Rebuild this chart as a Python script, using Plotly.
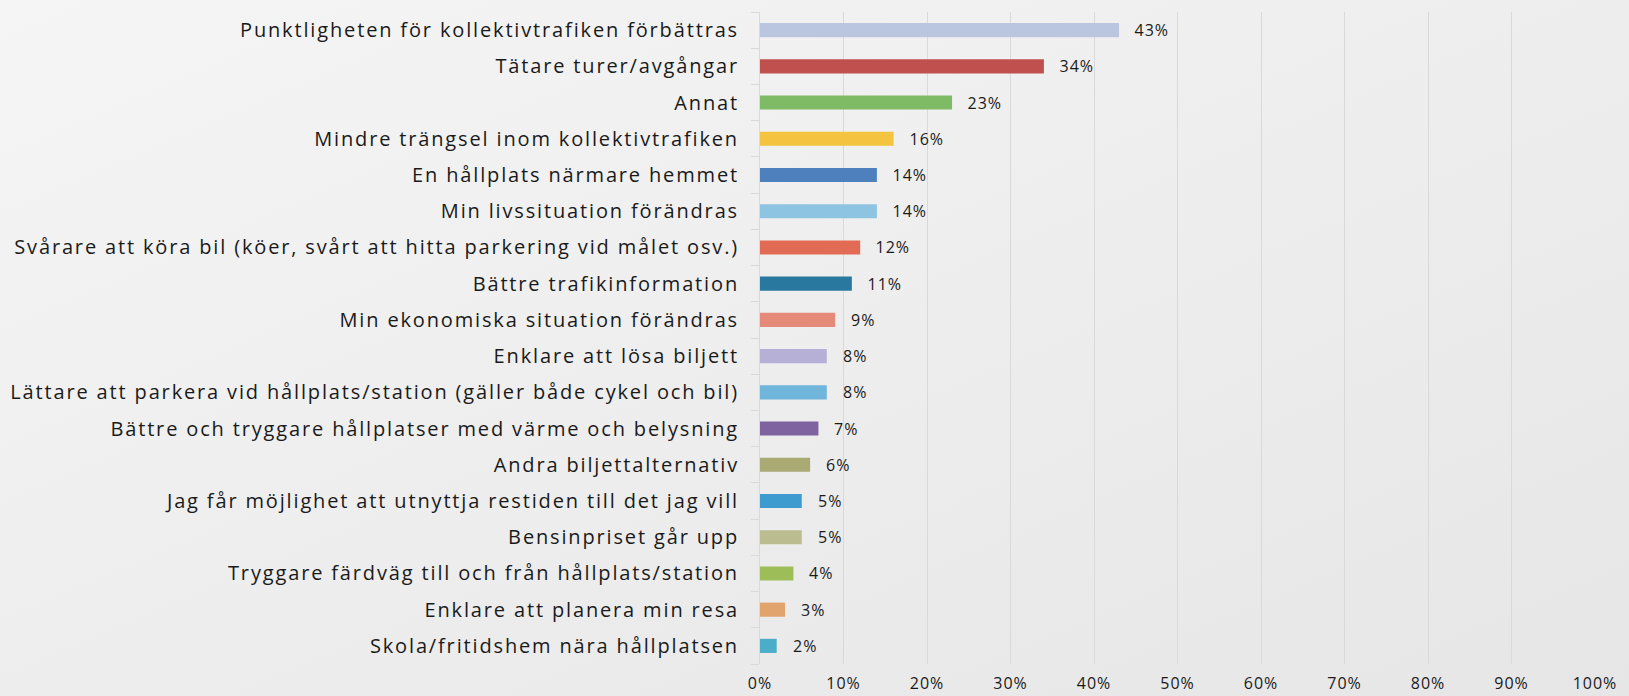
import base64
import plotly.graph_objects as go

# Survey answers: what would make you travel more by public transport (share of respondents, %)
categories = [
    "Punktligheten för kollektivtrafiken förbättras",
    "Tätare turer/avgångar",
    "Annat",
    "Mindre trängsel inom kollektivtrafiken",
    "En hållplats närmare hemmet",
    "Min livssituation förändras",
    "Svårare att köra bil (köer, svårt att hitta parkering vid målet osv.)",
    "Bättre trafikinformation",
    "Min ekonomiska situation förändras",
    "Enklare att lösa biljett",
    "Lättare att parkera vid hållplats/station (gäller både cykel och bil)",
    "Bättre och tryggare hållplatser med värme och belysning",
    "Andra biljettalternativ",
    "Jag får möjlighet att utnyttja restiden till det jag vill",
    "Bensinpriset går upp",
    "Tryggare färdväg till och från hållplats/station",
    "Enklare att planera min resa",
    "Skola/fritidshem nära hållplatsen",
]
values = [43, 34, 23, 16, 14, 14, 12, 11, 9, 8, 8, 7, 6, 5, 5, 4, 3, 2]
bar_colors = [
    "#BAC6E0", "#C0504E", "#7EBB64", "#F4C441", "#4E80BD", "#8DC4E2",
    "#E16B55", "#2878A0", "#E58A78", "#B7B0D6", "#70B5DC", "#7F62A0",
    "#AAAA74", "#3D9BD0", "#BBBD90", "#9DBD59", "#E0A46C", "#4BADC8",
]
x_ticks = list(range(0, 101, 10))
x_tick_labels = [f"{t}%" for t in x_ticks]

W, H = 1629, 696
M_L, M_R, M_T, M_B = 760, 34, 12, 32
FONT = "Open Sans"
TEXT = "#1a1a1a"

fig = go.Figure(
    go.Bar(
        x=values,
        y=categories,
        orientation="h",
        marker=dict(color=bar_colors, line=dict(width=0)),
        width=0.39,
        hoverinfo="x+y",
    )
)

# value labels to the right of each bar
for cat, v in zip(categories, values):
    fig.add_annotation(
        x=v, y=cat, text=f"{v}%", showarrow=False,
        xanchor="left", yanchor="middle", xshift=15, yshift=0,
        font=dict(family=FONT, size=16, color=TEXT),
    )

# soft diagonal background gradient behind the whole figure
svg = (
    f'<svg xmlns="http://www.w3.org/2000/svg" width="{W}" height="{H}">'
    '<defs><linearGradient id="g" x1="0" y1="0" x2="1" y2="1">'
    '<stop offset="0" stop-color="#f5f5f5"/><stop offset="1" stop-color="#e6e6e6"/>'
    '</linearGradient></defs>'
    f'<rect width="{W}" height="{H}" fill="url(#g)"/></svg>'
)
bg_src = "data:image/svg+xml;base64," + base64.b64encode(svg.encode()).decode()
pw, ph = W - M_L - M_R, H - M_T - M_B
fig.add_layout_image(
    source=bg_src, xref="paper", yref="paper",
    x=-M_L / pw, y=1 + M_T / ph, sizex=W / pw, sizey=H / ph,
    xanchor="left", yanchor="top", sizing="stretch", layer="below",
)

fig.update_layout(
    width=W, height=H,
    margin=dict(l=M_L, r=M_R, t=M_T, b=M_B, pad=0, autoexpand=False),
    paper_bgcolor="#eeeeee",
    plot_bgcolor="rgba(0,0,0,0)",
    showlegend=False,
    font=dict(family=FONT, color=TEXT),
    xaxis=dict(
        range=[0, 100], tickvals=x_ticks, ticktext=x_tick_labels,
        showgrid=True, gridcolor="#d9d9d9", gridwidth=1,
        zeroline=False, showline=False, ticks="",
        tickfont=dict(family=FONT, size=16, color=TEXT),
        ticklabelstandoff=8, fixedrange=True, automargin=False,
    ),
    yaxis=dict(
        type="category", categoryorder="array",
        categoryarray=categories[::-1],
        showgrid=False, zeroline=False,
        showline=True, linecolor="#d9d9d9", linewidth=1,
        ticks="outside", ticklen=8, tickcolor="#d9d9d9", tickson="boundaries",
        tickfont=dict(family=FONT, size=20, color=TEXT),
        ticklabelstandoff=16, fixedrange=True, automargin=False,
    ),
)

# letter tracking on the text, in the style of the office chart typography
tracking_js = """
function track() {
  document.querySelectorAll('.ytick text').forEach(function (t) { t.style.letterSpacing = '1.85px'; });
  document.querySelectorAll('.xtick text').forEach(function (t) { t.style.letterSpacing = '1px'; });
  document.querySelectorAll('.annotation-text').forEach(function (t) { t.style.letterSpacing = '1px'; });
}
track();
var gd = document.getElementById('{plot_id}');
if (gd && gd.on) { gd.on('plotly_afterplot', track); }
"""

fig.write_html("out.html", post_script=tracking_js)
